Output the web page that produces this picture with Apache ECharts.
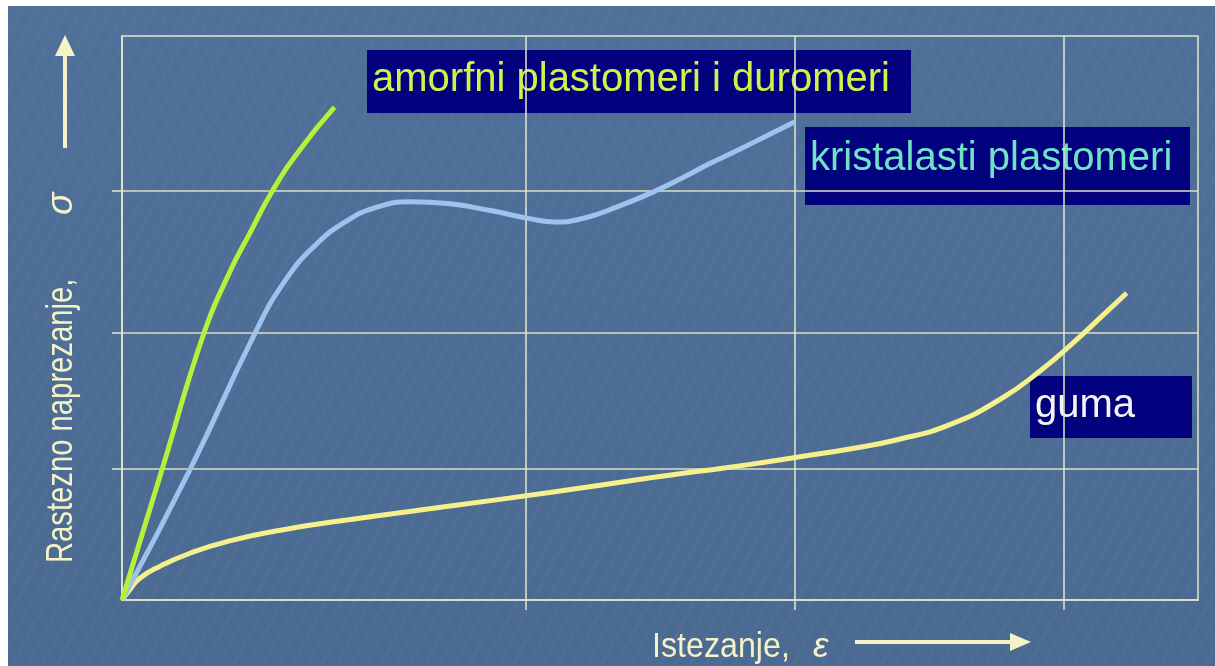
<!DOCTYPE html>
<html>
<head>
<meta charset="utf-8">
<title>Rastezno naprezanje - istezanje</title>
<script src="https://cdn.jsdelivr.net/npm/echarts@6/dist/echarts.min.js"></script>
<style>
  html, body { margin: 0; padding: 0; background: #ffffff; }
  #chart {
    position: absolute; left: 8px; top: 6px; width: 1207px; height: 660px;
    background-color: #4d6d95;
    background-image:
      repeating-linear-gradient(118deg, rgba(255,255,255,0.025) 0px, rgba(255,255,255,0.025) 3px, rgba(0,0,0,0) 3px, rgba(0,0,0,0) 13px),
      linear-gradient(180deg, #4f7099 0%, #4b6a92 100%);
  }
</style>
</head>
<body>
<div id="chart"></div>
<script>
  // strain (x) / stress (y)
  const amorfni = [[0, 0], [0.30, 0.98], [0.61, 1.99], [0.80, 2.44], [0.95, 2.73], [1.12, 3.05],
    [1.32, 3.35], [1.58, 3.67]]
  const kristalasti = [[0, 0], [0.51, 0.98], [0.99, 1.99], [1.21, 2.375], [1.435, 2.64], [1.66, 2.815],
    [1.88, 2.92], [2.14, 2.965], [2.44, 2.95], [2.74, 2.90], [3.03, 2.84], [3.22, 2.815], [3.44, 2.845],
    [3.70, 2.935], [3.93, 3.03], [4.15, 3.135], [4.37, 3.25], [4.60, 3.36], [4.82, 3.47], [5.00, 3.56]]
  const guma = [[0, 0], [0.045, 0.06], [0.13, 0.16], [0.28, 0.25], [0.51, 0.35], [0.80, 0.44],
    [1.18, 0.52], [1.70, 0.60], [2.44, 0.70], [3.18, 0.80], [3.93, 0.91], [4.30, 0.96], [4.67, 1.01],
    [5.04, 1.067], [5.41, 1.125], [5.78, 1.197], [6.16, 1.308], [6.53, 1.495], [6.83, 1.709],
    [7.09, 1.932], [7.31, 2.136], [7.47, 2.286]]
  const xGrid = [3, 5, 7]
  const yGrid = [0.98, 1.99, 3.05]

  const names = {
    amorfni: 'amorfni plastomeri i duromeri',
    kristalasti: 'kristalasti plastomeri',
    guma: 'guma',
    xTitle: 'Istezanje,',
    yTitle: 'Rastezno naprezanje,'
  }

  const lineColor = '#e2e8cc'
  const arrowColor = '#f6f2c8'
  const font = '"Liberation Sans", Arial, sans-serif'

  let labelBox = (x, y, w, h, text, color, ty) => ({
    type: 'group',
    children: [
      { type: 'rect', shape: { x: x, y: y, width: w, height: h }, style: { fill: '#02027f' } },
      { type: 'text', x: x + 5, y: ty,
        style: { text: text, fill: color, font: '40px ' + font, textAlign: 'left', textVerticalAlign: 'middle' } }
    ]
  })

  let curve = (name, data, color) => ({
    name: name, type: 'line', data: data, smooth: 0.5, showSymbol: false,
    lineStyle: { color: color, width: 5 }
  })

  let option = {
    backgroundColor: 'transparent',
    animation: false,
    grid: { left: 114, top: 30, right: 17, bottom: 66, show: true, borderColor: lineColor, borderWidth: 1.5 },
    xAxis: {
      type: 'value', min: 0, max: 8,
      axisLine: { show: true, lineStyle: { color: lineColor, width: 1.5 } },
      axisTick: { show: true, inside: false, length: 10, customValues: xGrid, lineStyle: { color: lineColor, width: 1.5 } },
      axisLabel: { show: false, customValues: xGrid },
      splitLine: { show: true, lineStyle: { color: lineColor, width: 1.5 } }
    },
    yAxis: {
      type: 'value', min: 0, max: 4.2,
      axisLine: { show: true, lineStyle: { color: lineColor, width: 1.5 } },
      axisTick: { show: true, inside: false, length: 10, customValues: yGrid, lineStyle: { color: lineColor, width: 1.5 } },
      axisLabel: { show: false, customValues: yGrid },
      splitLine: { show: true, lineStyle: { color: '#dcdfc2', width: 1.5 } }
    },
    series: [
      curve(names.guma, guma, '#f5f08c'),
      curve(names.kristalasti, kristalasti, '#9cc3ee'),
      curve(names.amorfni, amorfni, '#b4f03c')
    ],
    graphic: [
      labelBox(359, 44, 544, 63, names.amorfni, '#d2f24a', 74),
      labelBox(797, 121, 385, 78, names.kristalasti, '#70e2c6', 153),
      labelBox(1022, 370, 162, 62, names.guma, '#f4f4f0', 400),
      // axis titles
      { type: 'text', x: 644, y: 641, scaleX: 0.92,
        style: { text: names.xTitle, fill: arrowColor, font: '35px ' + font, textAlign: 'left', textVerticalAlign: 'middle' } },
      { type: 'text', x: 805, y: 641,
        style: { text: 'ε', fill: arrowColor, font: 'italic 35px ' + font, textAlign: 'left', textVerticalAlign: 'middle' } },
      { type: 'text', x: 54, y: 557, rotation: Math.PI / 2, scaleX: 0.79,
        style: { text: names.yTitle, fill: arrowColor, font: '37px ' + font, textAlign: 'left', textVerticalAlign: 'middle' } },
      { type: 'text', x: 54, y: 209, rotation: Math.PI / 2,
        style: { text: 'σ', fill: arrowColor, font: 'italic 37px ' + font, textAlign: 'left', textVerticalAlign: 'middle' } },
      // arrows
      { type: 'line', shape: { x1: 57, y1: 142, x2: 57, y2: 48 }, style: { stroke: arrowColor, lineWidth: 4 } },
      { type: 'polygon', shape: { points: [[57, 29], [47, 50], [67, 50]] }, style: { fill: arrowColor } },
      { type: 'line', shape: { x1: 847, y1: 636, x2: 1004, y2: 636 }, style: { stroke: arrowColor, lineWidth: 4 } },
      { type: 'polygon', shape: { points: [[1023, 636], [1002, 627], [1002, 645]] }, style: { fill: arrowColor } }
    ]
  }

  let dom = echarts.init(document.getElementById('chart'))
  dom.setOption(option)
  window.addEventListener('resize', dom.resize)
</script>
</body>
</html>
